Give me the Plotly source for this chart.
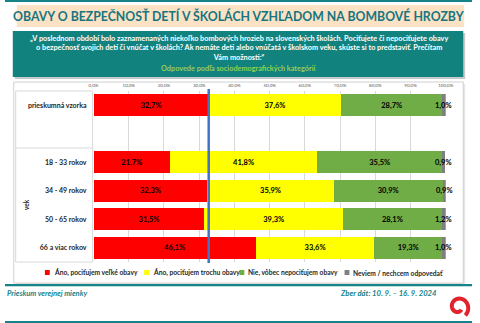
import numpy as np
import plotly.graph_objects as go

# ---------------- data ----------------
categories = ["prieskumná vzorka", " ", "18 - 33 rokov", "34 - 49 rokov", "50 - 65 rokov", "66 a viac rokov"]
rows = ["prieskumná vzorka", "18 - 33 rokov", "34 - 49 rokov", "50 - 65 rokov", "66 a viac rokov"]
series_names = ["Áno, pociťujem veľké obavy", "Áno, pociťujem trochu obavy",
                "Nie, vôbec nepociťujem obavy", "Neviem / nechcem odpovedať"]
vel_obavy = [32.7, 21.7, 32.3, 31.5, 46.1]
trochu_obavy = [37.6, 41.8, 35.9, 39.3, 33.6]
nie_obavy = [28.7, 35.5, 30.9, 28.1, 19.3]
neviem = [1.0, 0.9, 0.9, 1.2, 1.0]
tick_vals = [0, 10, 20, 30, 40, 50, 60, 70, 80, 90, 100]
tick_text = ["0,0%", "10,0%", "20,0%", "30,0%", "40,0%", "50,0%", "60,0%", "70,0%", "80,0%", "90,0%", "100,0%"]
reference_value = vel_obavy[0]  # vertical line = overall sample

colors = ["#FF0000", "#FFFF00", "#70AD47", "#7F7F7F"]
TEAL = "#16838A"
FONT = "Lato"

W, H = 480, 323
def X(p): return p / W
def Y(p): return 1 - p / H

def fmt(v):
    return f"{v:.1f}%".replace(".", ",")

fig = go.Figure()
all_series = [vel_obavy, trochu_obavy, nie_obavy, neviem]
for i, (name, vals) in enumerate(zip(series_names, all_series)):
    fig.add_trace(go.Bar(
        y=rows, x=vals, name=name, orientation="h",
        marker=dict(color=colors[i], line=dict(width=0)),
        width=0.78,
        text=[fmt(v) for v in vals] if i < 3 else None,
        textposition="inside" if i < 3 else "none",
        insidetextanchor="middle",
        textfont=dict(family=FONT, size=7.5, color="black", weight="bold"),
        showlegend=False,
        hoverinfo="skip",
    ))

annotations = []
# labels of the small "neviem" segment, centered on the segment
for r, a, b, c, d in zip(rows, vel_obavy, trochu_obavy, nie_obavy, neviem):
    annotations.append(dict(x=a + b + c + d / 2, y=r, xref="x", yref="y", text=fmt(d),
                            showarrow=False, font=dict(family=FONT, size=7.5, color="black", weight="bold")))

shapes = []
def rect(x0, y0, x1, y1, fill, line_color=None, lw=0, layer="below"):
    shapes.append(dict(type="rect", xref="paper", yref="paper", x0=X(x0), x1=X(x1), y0=Y(y0), y1=Y(y1),
                       fillcolor=fill, line=dict(color=line_color or fill, width=lw), layer=layer))

# header
rect(0, 0, 480, 2, TEAL)
rect(12, 5, 472, 27, "#FBE2C4")
rect(10, 33, 473, 79, "#C9C9C9")
rect(8, 31, 471, 77, "#12827F")
# chart panel
rect(11, 84, 473, 285, "#E6E6E6")
rect(9, 82, 471, 283, "white", "#D0D0D0", 1)
rect(11, 91, 90, 262, "white", "#D9D9D9", 1)
shapes.append(dict(type="line", xref="paper", yref="paper", x0=X(11), x1=X(90), y0=Y(148), y1=Y(148),
                   line=dict(color="#D9D9D9", width=1), layer="below"))
# reference line
shapes.append(dict(type="line", xref="x", yref="paper", x0=reference_value, x1=reference_value,
                   y0=Y(263), y1=Y(89), line=dict(color="#4472C4", width=2.5), layer="above"))
# footer lines
rect(0, 284, 480, 286, TEAL)
rect(0, 286, 480, 287, "#BFE0E0")
rect(0, 321, 480, 323, TEAL)

# legend (manual, compact like the original)
leg_x = [41, 143, 241, 349]
for i, name in enumerate(series_names):
    rect(leg_x[i], 270, leg_x[i] + 5, 275, colors[i], layer="above")
    annotations.append(dict(x=X(leg_x[i] + 7), y=Y(272.5), xref="paper", yref="paper", text=name,
                            xanchor="left", yanchor="middle", showarrow=False,
                            font=dict(family=FONT, size=6.7, color="#262626", weight="bold")))

# logo swirl
cx, cy = 466, 307
th = np.linspace(np.deg2rad(-50), np.deg2rad(320), 80)
r = np.linspace(11.0, 4.0, 80)
pts = [(cx + rr * np.cos(t), cy - rr * np.sin(t)) for rr, t in zip(r, th)]
path = "M " + " L ".join(f"{X(px):.5f},{Y(py):.5f}" for px, py in pts)
shapes.append(dict(type="path", xref="paper", yref="paper", path=path,
                   line=dict(color="#E3232C", width=4), layer="above"))

# texts
annotations += [
    dict(x=X(240), y=Y(16), xref="paper", yref="paper", showarrow=False, yanchor="middle",
         text="<b>OBAVY O BEZPEČNOSŤ DETÍ V ŠKOLÁCH VZHĽADOM NA BOMBOVÉ HROZBY</b>",
         font=dict(family=FONT, size=12.3, color="#177580")),
    dict(x=X(240), y=Y(32), xref="paper", yref="paper", showarrow=False, align="center",
         yanchor="top",
         text="„V poslednom období bolo zaznamenaných niekoľko bombových hrozieb na slovenských školách. Pociťujete či nepociťujete obavy"
              "<br>o bezpečnosť svojich detí či vnúčat v školách? Ak nemáte deti alebo vnúčatá v školskom veku, skúste si to predstaviť. Prečítam"
              "<br>Vám možnosti:“",
         font=dict(family=FONT, size=7.3, color="white", weight="bold")),
    dict(x=X(240), y=Y(68.5), xref="paper", yref="paper", showarrow=False, yanchor="middle",
         text="<b>Odpovede podľa sociodemografických kategórií</b>",
         font=dict(family=FONT, size=7.3, color="#92D050")),
    dict(x=X(16), y=Y(205), xref="paper", yref="paper", showarrow=False, textangle=-90,
         text="vek", font=dict(family=FONT, size=6.5, color="#262626", weight="bold")),
    dict(x=X(0), y=Y(300), xref="paper", yref="paper", showarrow=False, xanchor="left",
         text="<i>Prieskum verejnej mienky</i>",
         font=dict(family=FONT, size=7.5, color=TEAL, weight="bold")),
    dict(x=X(446), y=Y(300), xref="paper", yref="paper", showarrow=False, xanchor="right",
         text="<i>Zber dát: 10. 9. – 16. 9. 2024</i>",
         font=dict(family=FONT, size=7.7, color=TEAL, weight="bold")),
]

fig.update_layout(
    width=W, height=H, margin=dict(l=0, r=0, t=0, b=0),
    paper_bgcolor="white", plot_bgcolor="white",
    barmode="stack", showlegend=False,
    font=dict(family=FONT),
    xaxis=dict(domain=[X(91), X(453)], range=[0, 100], side="top",
               tickvals=tick_vals, ticktext=tick_text,
               tickfont=dict(family=FONT, size=4.5, color="#595959"),
               showgrid=True, gridcolor="#D9D9D9", gridwidth=1, zeroline=False, showline=False,
               ticks="", ticklabelstandoff=2, fixedrange=True),
    yaxis=dict(domain=[Y(262), Y(91)], type="category", categoryorder="array",
               categoryarray=categories, range=[5.5, -0.5],
               tickfont=dict(family=FONT, size=7, color="#262626", weight="bold"),
               showgrid=False, zeroline=False, showline=False, ticks="", ticklabelstandoff=6,
               fixedrange=True),
    shapes=shapes, annotations=annotations,
)

fig.write_html("out.html")
